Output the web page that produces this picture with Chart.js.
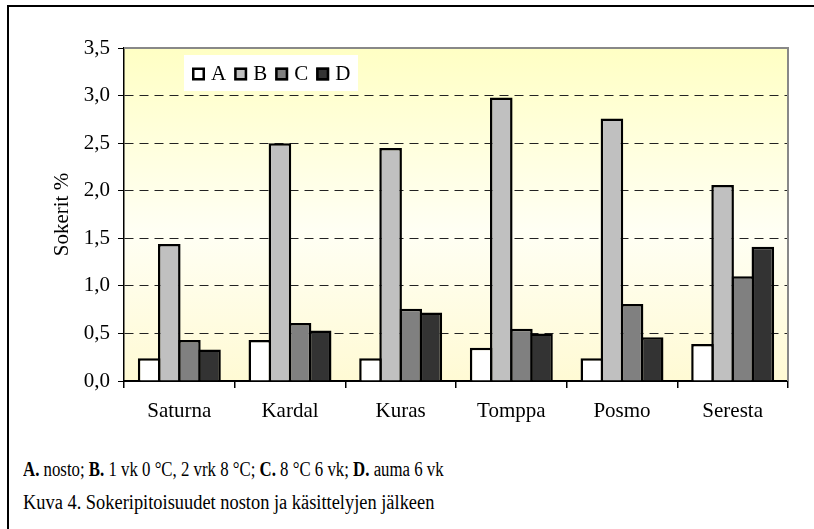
<!DOCTYPE html>
<html><head><meta charset="utf-8">
<script src="https://cdn.jsdelivr.net/npm/chart.js@4.4.1/dist/chart.umd.min.js"></script>
<style>
html,body{margin:0;padding:0;background:#fff;width:814px;height:529px;overflow:hidden;}
#frame{position:absolute;left:7px;top:5px;width:810px;height:530px;border-top:2px solid #000;border-left:2px solid #000;}
#wrap{position:absolute;left:0;top:0;width:814px;height:440px;}
.cap{position:absolute;left:23px;font-family:"Liberation Serif","Times New Roman",serif;font-size:20px;line-height:23px;color:#000;white-space:nowrap;transform-origin:0 50%;}
</style></head><body>
<div id="frame"></div>
<div id="wrap"><canvas id="c"></canvas></div>
<div class="cap" style="top:458px;transform:scaleX(0.84)"><b>A.</b> nosto; <b>B.</b> 1 vk 0 °C, 2 vrk 8 °C; <b>C.</b> 8 °C 6 vk; <b>D.</b> auma 6 vk</div>
<div class="cap" style="top:491px;transform:scaleX(0.92)">Kuva 4. Sokeripitoisuudet noston ja käsittelyjen jälkeen</div>
<script>
const categories = ['Saturna','Kardal','Kuras','Tomppa','Posmo','Seresta'];
const seriesLabels = ['A','B','C','D'];
const seriesA = [0.24,0.43,0.24,0.35,0.24,0.39];
const seriesB = [1.44,2.50,2.45,2.98,2.76,2.06];
const seriesC = [0.43,0.61,0.76,0.55,0.81,1.10];
const seriesD = [0.33,0.53,0.72,0.50,0.46,1.41];
const yTicks = [0,0.5,1,1.5,2,2.5,3,3.5];
const yTitle = 'Sokerit %';
const seriesColors = ['#FFFFFF','#C0C0C0','#808080','#333333'];

const FONT = '"Liberation Serif","Times New Roman",serif';

const bgPlugin = {
  id:'bg',
  beforeDraw(chart){
    const a = chart.chartArea, ctx = chart.ctx;
    const g = ctx.createLinearGradient(0,a.top,0,a.bottom);
    g.addColorStop(0,'#FFFFC4');
    g.addColorStop(0.55,'#FFFFF4');
    g.addColorStop(1,'#FFFAD4');
    ctx.save(); ctx.fillStyle=g; ctx.fillRect(a.left,a.top,a.right-a.left,a.bottom-a.top); ctx.restore();
  },
  beforeDatasetsDraw(chart){
    const a = chart.chartArea, ctx = chart.ctx;
    ctx.save(); ctx.strokeStyle='#888'; ctx.lineWidth=2;
    ctx.beginPath(); ctx.moveTo(a.left,a.top); ctx.lineTo(a.right,a.top); ctx.lineTo(a.right,a.bottom); ctx.stroke();
    ctx.restore();
  }
};

const legendPlugin = {
  id:'customLegend',
  afterDraw(chart){
    const ctx = chart.ctx, a = chart.chartArea;
    const x0 = a.left + 60, y0 = a.top + 7, w = 174, h = 36;
    ctx.save();
    ctx.fillStyle='#fff'; ctx.fillRect(x0,y0,w,h);
    ctx.font = '21px ' + FONT;
    ctx.textBaseline='middle';
    let x = x0 + 8;
    const cy = y0 + h/2 + 1;
    chart.data.datasets.forEach(ds => {
      const s = 13;
      ctx.fillStyle = ds.backgroundColor; ctx.fillRect(x, cy - s/2, s, s);
      ctx.lineWidth = 2.5; ctx.strokeStyle = '#000';
      ctx.strokeRect(x+1.25, cy - s/2 + 1.25, s-2.5, s-2.5);
      x += s + 6;
      ctx.fillStyle = '#000'; ctx.fillText(ds.label, x, cy);
      x += ctx.measureText(ds.label).width + 8;
    });
    ctx.restore();
  }
};

const seriesValues = [seriesA, seriesB, seriesC, seriesD];
const datasets = seriesLabels.map((lab,i)=>({
  label: lab,
  data: seriesValues[i],
  backgroundColor: seriesColors[i],
  borderColor: '#000',
  borderWidth: 2.5,
  borderSkipped: 'start',
  categoryPercentage: 0.727,
  barPercentage: 1.124
}));

new Chart(document.getElementById('c'), {
  type:'bar',
  data:{labels:categories, datasets},
  options:{
    responsive:true, maintainAspectRatio:false, animation:false,
    layout:{padding:{left:48, top:48, right:26, bottom:0}},
    plugins:{legend:{display:false}, tooltip:{enabled:false}},
    scales:{
      x:{
        afterFit(s){ s.height = 59; },
        grid:{display:true, drawOnChartArea:false, offset:true, tickLength:7, color:'#000', tickColor:'#000', lineWidth:1.5},
        border:{display:true, color:'#000', width:2},
        ticks:{color:'#000', font:{family:FONT, size:21}, padding:11, maxRotation:0}
      },
      y:{
        min:0, max:3.5,
        afterFit(s){ s.width = 76; },
        afterBuildTicks(s){ s.ticks = yTicks.map(v=>({value:v})); },
        grid:{
          color: c => (c.tick && (c.tick.value===0 || c.tick.value===3.5)) ? 'rgba(0,0,0,0)' : '#222',
          tickColor:'#000', tickLength:6, tickBorderDash:[], lineWidth:1
        },
        border:{display:true, color:'#000', width:1.5, dash:[9,6]},
        ticks:{color:'#000', font:{family:FONT, size:21}, padding:8,
          callback: v => Number(v).toFixed(1).replace('.',',')},
        title:{display:true, text:yTitle, color:'#000', font:{family:FONT, size:21}, padding:{top:2,bottom:4}}
      }
    }
  },
  plugins:[bgPlugin, legendPlugin]
});
</script>
</body></html>
